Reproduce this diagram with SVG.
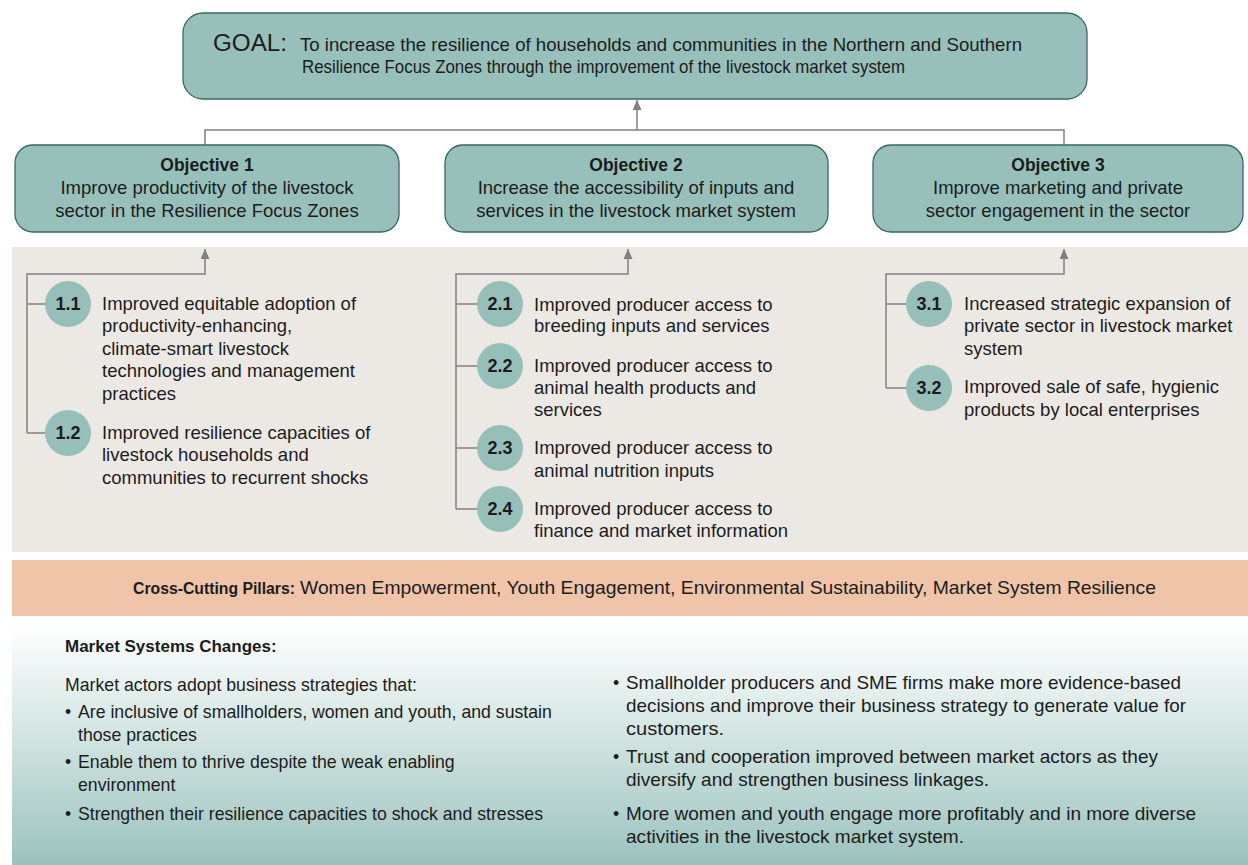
<svg xmlns="http://www.w3.org/2000/svg" width="1248" height="865" viewBox="0 0 1248 865">
  <style>
    .t { font-family: "Liberation Sans", Arial, "DejaVu Sans", sans-serif; fill: #1c1c1c; }
    .box { fill: #97c0bb; stroke: #3a6763; stroke-width: 1.3; }
    .dot { fill: #96bfba; }
    .num { font-size: 18px; font-weight: bold; text-anchor: middle; }
    .item { font-size: 18.5px; }
    .obj { font-size: 18.5px; text-anchor: middle; }
    .objh { font-size: 17.5px; font-weight: bold; text-anchor: middle; }
    .body { font-size: 17.7px; }
    .link { fill: none; stroke: #808080; stroke-width: 1.5; }
  </style>
  <defs>
    <marker id="arrow" markerUnits="userSpaceOnUse" markerWidth="10" markerHeight="12" refX="10" refY="4.5" orient="auto">
      <path d="M0,0 L10,4.5 L0,9 Z" fill="#808080"/>
    </marker>
    <linearGradient id="fade" x1="0" y1="0" x2="0" y2="1">
      <stop offset="0" stop-color="#ffffff"/>
      <stop offset="0.45" stop-color="#d3e5e2"/>
      <stop offset="1" stop-color="#9bc2be"/>
    </linearGradient>
  </defs>

  <!-- background bands -->
  <rect x="12" y="247" width="1236" height="305" fill="#ece9e5"/>
  <rect x="12" y="560" width="1236" height="56" fill="#efc4a8"/>
  <rect x="12" y="625" width="1236" height="240" fill="url(#fade)"/>

  <!-- connectors -->
  <g id="connectors">
    <path class="link" d="M205,145 V130 H1064 V145"/>
    <path class="link" d="M637,130 V100" marker-end="url(#arrow)"/>
    <path class="link" d="M27,433 V274 H205 V249" marker-end="url(#arrow)"/>
    <path class="link" d="M27,304 H46 M27,433 H46"/>
    <path class="link" d="M456,509 V274 H628 V249" marker-end="url(#arrow)"/>
    <path class="link" d="M456,304 H478 M456,366 H478 M456,448 H478 M456,509 H478"/>
    <path class="link" d="M886,388 V274 H1064 V249" marker-end="url(#arrow)"/>
    <path class="link" d="M886,304 H907 M886,388 H907"/>
  </g>

  <g id="goal">
    <rect class="box" x="183" y="13" width="904" height="86" rx="20"/>
    <text class="t" x="213" y="51" font-size="23" textLength="74" lengthAdjust="spacingAndGlyphs">GOAL:</text>
    <text class="t" x="300" y="51" font-size="18.5" textLength="722" lengthAdjust="spacingAndGlyphs">To increase the resilience of households and communities in the Northern and Southern</text>
    <text class="t" x="302" y="73" font-size="18.5" textLength="603" lengthAdjust="spacingAndGlyphs">Resilience Focus Zones through the improvement of the livestock market system</text>
  </g>

  <g id="objective-1">
    <rect class="box" x="15" y="145" width="384" height="87" rx="18"/>
    <text class="t objh" x="207" y="171">Objective 1</text>
    <text class="t obj" x="207" y="194">Improve productivity of the livestock</text>
    <text class="t obj" x="207" y="217">sector in the Resilience Focus Zones</text>
  </g>
  <g id="objective-2">
    <rect class="box" x="445" y="145" width="383" height="87" rx="18"/>
    <text class="t objh" x="636" y="171">Objective 2</text>
    <text class="t obj" x="636" y="194">Increase the accessibility of inputs and</text>
    <text class="t obj" x="636" y="217">services in the livestock market system</text>
  </g>
  <g id="objective-3">
    <rect class="box" x="873" y="145" width="370" height="87" rx="18"/>
    <text class="t objh" x="1058" y="171">Objective 3</text>
    <text class="t obj" x="1058" y="194">Improve marketing and private</text>
    <text class="t obj" x="1058" y="217">sector engagement in the sector</text>
  </g>

  <g id="result-1-1">
    <circle class="dot" cx="68" cy="304" r="23"/>
    <text class="t num" x="68" y="310">1.1</text>
    <text class="t item" x="102" y="310">Improved equitable adoption of</text>
    <text class="t item" x="102" y="332">productivity-enhancing,</text>
    <text class="t item" x="102" y="354.5">climate-smart livestock</text>
    <text class="t item" x="102" y="377">technologies and management</text>
    <text class="t item" x="102" y="399.5">practices</text>
  </g>
  <g id="result-1-2">
    <circle class="dot" cx="68" cy="433" r="23"/>
    <text class="t num" x="68" y="439">1.2</text>
    <text class="t item" x="102" y="438.5">Improved resilience capacities of</text>
    <text class="t item" x="102" y="461">livestock households and</text>
    <text class="t item" x="102" y="483.5">communities to recurrent shocks</text>
  </g>

  <g id="result-2-1">
    <circle class="dot" cx="500" cy="304" r="23"/>
    <text class="t num" x="500" y="310">2.1</text>
    <text class="t item" x="534" y="310.5">Improved producer access to</text>
    <text class="t item" x="534" y="332">breeding inputs and services</text>
  </g>
  <g id="result-2-2">
    <circle class="dot" cx="500" cy="366" r="23"/>
    <text class="t num" x="500" y="372">2.2</text>
    <text class="t item" x="534" y="371.5">Improved producer access to</text>
    <text class="t item" x="534" y="393.5">animal health products and</text>
    <text class="t item" x="534" y="415.5">services</text>
  </g>
  <g id="result-2-3">
    <circle class="dot" cx="500" cy="448" r="23"/>
    <text class="t num" x="500" y="454">2.3</text>
    <text class="t item" x="534" y="454">Improved producer access to</text>
    <text class="t item" x="534" y="476.5">animal nutrition inputs</text>
  </g>
  <g id="result-2-4">
    <circle class="dot" cx="500" cy="509" r="23"/>
    <text class="t num" x="500" y="515">2.4</text>
    <text class="t item" x="534" y="515">Improved producer access to</text>
    <text class="t item" x="534" y="537">finance and market information</text>
  </g>

  <g id="result-3-1">
    <circle class="dot" cx="929" cy="304" r="23"/>
    <text class="t num" x="929" y="310">3.1</text>
    <text class="t item" x="964" y="310">Increased strategic expansion of</text>
    <text class="t item" x="964" y="332">private sector in livestock market</text>
    <text class="t item" x="964" y="354.5">system</text>
  </g>
  <g id="result-3-2">
    <circle class="dot" cx="929" cy="388" r="23"/>
    <text class="t num" x="929" y="394">3.2</text>
    <text class="t item" x="964" y="393">Improved sale of safe, hygienic</text>
    <text class="t item" x="964" y="415.5">products by local enterprises</text>
  </g>

  <g id="pillars">
    <text class="t" x="133" y="594" font-size="16" font-weight="bold" textLength="162" lengthAdjust="spacingAndGlyphs">Cross-Cutting Pillars:</text>
    <text class="t" x="300" y="594" font-size="18.5" textLength="856" lengthAdjust="spacingAndGlyphs">Women Empowerment, Youth Engagement, Environmental Sustainability, Market System Resilience</text>
  </g>

  <g id="market-changes">
    <text class="t" x="65" y="652" font-size="17" font-weight="bold">Market Systems Changes:</text>
    <text class="t body" x="65" y="691">Market actors adopt business strategies that:</text>
    <text class="t body" x="65" y="718">•</text>
    <text class="t body" x="78" y="718">Are inclusive of smallholders, women and youth, and sustain</text>
    <text class="t body" x="78" y="741">those practices</text>
    <text class="t body" x="65" y="768">•</text>
    <text class="t body" x="78" y="768">Enable them to thrive despite the weak enabling</text>
    <text class="t body" x="78" y="791">environment</text>
    <text class="t body" x="65" y="820">•</text>
    <text class="t body" x="78" y="820">Strengthen their resilience capacities to shock and stresses</text>

    <text class="t body" x="613" y="689">•</text>
    <text class="t body" x="626" y="689" textLength="555" lengthAdjust="spacingAndGlyphs">Smallholder producers and SME firms make more evidence-based</text>
    <text class="t body" x="626" y="712" textLength="560" lengthAdjust="spacingAndGlyphs">decisions and improve their business strategy to generate value for</text>
    <text class="t body" x="626" y="735" textLength="98" lengthAdjust="spacingAndGlyphs">customers.</text>
    <text class="t body" x="613" y="763">•</text>
    <text class="t body" x="626" y="763" textLength="532" lengthAdjust="spacingAndGlyphs">Trust and cooperation improved between market actors as they</text>
    <text class="t body" x="626" y="786" textLength="363" lengthAdjust="spacingAndGlyphs">diversify and strengthen business linkages.</text>
    <text class="t body" x="613" y="820">•</text>
    <text class="t body" x="626" y="820" textLength="570" lengthAdjust="spacingAndGlyphs">More women and youth engage more profitably and in more diverse</text>
    <text class="t body" x="626" y="843" textLength="338" lengthAdjust="spacingAndGlyphs">activities in the livestock market system.</text>
  </g>
</svg>
